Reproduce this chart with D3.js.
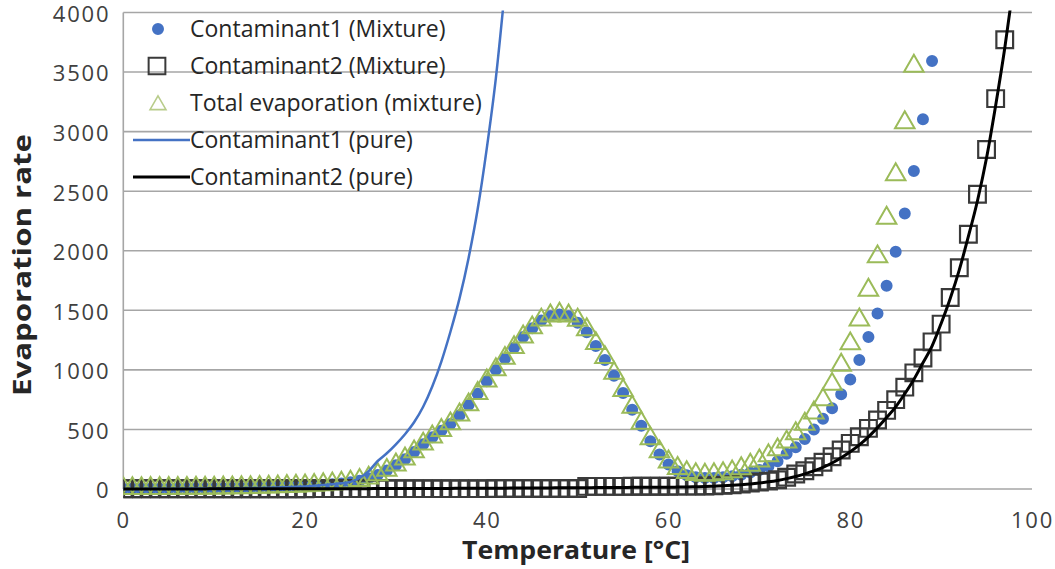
<!DOCTYPE html>
<html><head><meta charset="utf-8">
<script src="https://cdn.jsdelivr.net/npm/d3@7"></script>
<style>
body{margin:0;background:#fff}
svg{display:block}
text{font-family:"Open Sans",sans-serif}
</style>
</head><body>
<svg id="chart" width="1055" height="569"></svg>
<script>
// ---------- data ----------
const temperature = [0,1,2,3,4,5,6,7,8,9,10,11,12,13,14,15,16,17,18,19,20,21,22,23,24,25,26,27,28,29,30,31,32,33,34,35,36,37,38,39,40,41,42,43,44,45,46,47,48,49,50,51,52,53,54,55,56,57,58,59,60,61,62,63,64,65,66,67,68,69,70,71,72,73,74,75,76,77,78,79,80,81,82,83,84,85,86,87,88,89,90,91,92,93,94,95,96,97,98];

const c1Mixture = [2,2,2,3,3,3,4,4,5,5, 6,7,8,9,10,12,14,16,19,22,
  25,29,34,40,47,56,70,90,118,155, 200,250,310,375,435,490,545,620,705,800,
  905,1000,1095,1185,1275,1350,1415,1450,1465,1450, 1395,1315,1200,1082,950,805,665,530,400,290,
  205,150,115,98,92,93,98,108,120,138, 160,190,232,295,350,420,500,590,677,795,
  920,1082,1275,1474,1706,1991,2313,2670,3104,3593];

const c2Mixture = [2,2,2,2,2,2,2,2,2,2, 2,2,2,2,2,2,2,2,2,2,
  2,3,3,3,3,3,3,3,3,3, 3,3,3,3,3,3,3,3,3,3,
  3,4,4,4,4,4,4,4,4,4, 4,22,22,22,22,22,23,23,23,23,
  23,24,24,24,25,28,32,36,42,50, 58,66,78,98,126,153,187,224,271,327,
  383,439,509,579,660,750,855,975,1100,1235, 1384,1608,1857,2139,2475,2850,3277,3772];

const totalMixture = [5,5,5,6,6,6,7,7,8,8, 9,10,11,12,13,15,17,19,22,25,
  28,32,37,43,50,59,73,93,121,158, 203,253,313,378,438,493,548,623,708,803,
  908,1003,1098,1188,1278,1354,1419,1454,1469,1454, 1418,1338,1222,1104,972,827,688,553,423,313,
  228,174,139,122,117,121,130,145,172,201, 237,280,330,395,465,545,640,750,880,1040,
  1220,1420,1670,1950,2275,2640,3076,3550];

const c1Pure = [1,1,1,2,2,2,3,3,4,4, 5,5,6,7,8,9,11,13,15,18,
  22,27,33,40,48,60,92,150,235,300, 375,460,560,690,860,1070,1320,1600,1940,2350,
  2860,3450,4200];

const c2Pure = [1,1,1,1,1,1,1,1,1,1, 2,2,2,2,2,2,2,2,2,2,
  3,3,3,3,3,3,3,3,4,4, 4,4,4,5,5,5,5,6,6,6,
  7,7,7,8,8,8,9,9,10,10, 11,11,12,12,13,13,14,14,15,15,
  15,16,17,19,21,24,27,31,36,42, 50,60,72,87,105,127,152,182,218,262,
  312,370,438,515,600,690,800,920,1060,1200, 1390,1600,1840,2120,2420,2780,3220,3700,4250];

const xTicks = [0,20,40,60,80,100];
const yTicks = [0,500,1000,1500,2000,2500,3000,3500,4000];
const seriesNames = ["Contaminant1 (Mixture)","Contaminant2 (Mixture)","Total evaporation (mixture)","Contaminant1 (pure)","Contaminant2 (pure)"];
const xTitle = "Temperature [°C]";
const yTitle = "Evaporation rate";

// ---------- layout ----------
const svg = d3.select("#chart");
const x = d3.scaleLinear().domain([0,100]).range([123.3,1032]);
const y = d3.scaleLinear().domain([0,4000]).range([489,12.5]);
const gridColor = "#a6a6a6";
const blue = "#4472C4", green = "#9BBB59", dark = "#3a3a3a";

const toPts = arr => arr.map((v,i)=>({t:temperature[i], v}));

svg.append("defs").append("clipPath").attr("id","plotclip")
  .append("rect").attr("x",x(0)).attr("y",y(4000)-2).attr("width",x(100)-x(0)+2).attr("height",y(0)-y(4000)+12);

// gridlines
svg.append("g").selectAll("line").data(yTicks).join("line")
  .attr("x1",x(0)).attr("x2",x(100)).attr("y1",d=>y(d)).attr("y2",d=>y(d))
  .attr("stroke",gridColor).attr("stroke-width",1.6);
svg.append("line").attr("x1",x(0)).attr("x2",x(0)).attr("y1",y(0)).attr("y2",y(4000))
  .attr("stroke",gridColor).attr("stroke-width",1.6);

// axes labels
const yAxis = svg.append("g").attr("transform",`translate(${x(0)},0)`)
  .call(d3.axisLeft(y).tickValues(yTicks).tickSize(0).tickPadding(13).tickFormat(d3.format("d")));
const xAxis = svg.append("g").attr("transform",`translate(0,${y(0)})`)
  .call(d3.axisBottom(x).tickValues(xTicks).tickSize(0).tickPadding(23).tickFormat(d3.format("d")));
[yAxis,xAxis].forEach(g=>{
  g.select(".domain").remove();
  g.selectAll("text").attr("font-size",22).attr("fill","#404040")
    .attr("font-family","'DejaVu Sans',sans-serif").style("letter-spacing","1.8px");
});
yAxis.selectAll("text").attr("dy","0.40em");

svg.append("text").attr("x",576).attr("y",559).attr("text-anchor","middle")
  .attr("font-size",25).attr("font-weight","bold").attr("fill","#262626")
  .attr("textLength",228).attr("lengthAdjust","spacingAndGlyphs").text(xTitle);
svg.append("text").attr("transform","translate(31,265) rotate(-90)").attr("text-anchor","middle")
  .attr("font-size",25).attr("font-weight","bold").attr("fill","#262626")
  .attr("textLength",262).attr("lengthAdjust","spacingAndGlyphs").text(yTitle);

// ---------- marks ----------
const plot = svg.append("g").attr("clip-path","url(#plotclip)");
const circleSym = d3.symbol().type(d3.symbolCircle).size(113);
const squareSym = d3.symbol().type(d3.symbolSquare).size(280);
const triSym = d3.symbol().type(d3.symbolTriangle).size(165);

plot.append("g").selectAll("path").data(toPts(c1Mixture)).join("path")
  .attr("d",circleSym).attr("transform",d=>`translate(${x(d.t)},${y(d.v)})`)
  .attr("fill",blue);
plot.append("g").selectAll("path").data(toPts(c2Mixture)).join("path")
  .attr("d",squareSym).attr("transform",d=>`translate(${x(d.t)},${y(d.v)})`)
  .attr("fill","none").attr("stroke",dark).attr("stroke-width",2.2);
plot.append("g").selectAll("path").data(toPts(totalMixture)).join("path")
  .attr("d",triSym).attr("transform",d=>`translate(${x(d.t)},${y(d.v)})`)
  .attr("fill","none").attr("stroke",green).attr("stroke-width",2);

const line = d3.line().x(d=>x(d.t)).y(d=>y(d.v)).curve(d3.curveMonotoneX);
plot.append("path").datum(toPts(c1Pure)).attr("d",line)
  .attr("fill","none").attr("stroke",blue).attr("stroke-width",2.5);
plot.append("path").datum(toPts(c2Pure)).attr("d",line)
  .attr("fill","none").attr("stroke","#000").attr("stroke-width",3);

// ---------- legend ----------
const legY = [29,66,103,140,177];
const lg = svg.append("g");
const legendKinds = ["circle","square","triangle","blueLine","blackLine"];
legendKinds.forEach((k,i)=>{
  const g = lg.append("g").attr("transform",`translate(0,${legY[i]})`);
  if(k==="circle") g.append("path").attr("d",circleSym).attr("transform","translate(158,0)").attr("fill",blue);
  if(k==="square") g.append("path").attr("d",squareSym).attr("transform","translate(157,0)")
      .attr("fill","none").attr("stroke",dark).attr("stroke-width",2);
  if(k==="triangle") g.append("path").attr("d",d3.symbol().type(d3.symbolTriangle).size(110)).attr("transform","translate(158,2)")
      .attr("fill","none").attr("stroke","#b8cc8a").attr("stroke-width",1.6);
  if(k==="blueLine") g.append("line").attr("x1",133).attr("x2",190).attr("stroke",blue).attr("stroke-width",2.5);
  if(k==="blackLine") g.append("line").attr("x1",133).attr("x2",190).attr("stroke","#000").attr("stroke-width",3);
  g.append("text").attr("x",190).attr("y",0).attr("dy","0.35em").attr("font-size",23)
    .attr("fill","#262626").text(seriesNames[i]);
});
</script>
</body></html>
